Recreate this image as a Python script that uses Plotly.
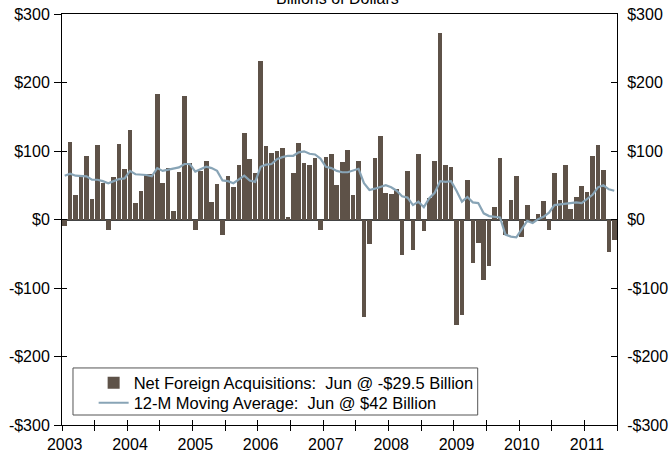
import plotly.graph_objects as go

# ---- data ----
start_year = 2003
year_labels = ["2003", "2004", "2005", "2006", "2007", "2008", "2009", "2010", "2011"]
net_acq = [
    -9, 113, 36, 63, 93, 30, 109, 53, -15, 62, 110, 74,        # 2003
    131, 24, 42, 66, 67, 183, 53, 75, 13, 69, 180, 82,         # 2004
    -16, 71, 85, 26, 52, -22, 64, 48, 80, 126, 88, 68,         # 2005
    232, 107, 97, 100, 104, 3, 68, 112, 83, 80, 90, -15,       # 2006
    91, 96, 50, 84, 101, 36, 85, -143, -36, 90, 122, 39,       # 2007
    37, 45, -52, 71, -45, 96, -17, 31, 85, 273, 80, 77,        # 2008
    -154, -140, 58, -63, -35, -89, -68, 18, 90, -23, 29, 64,   # 2009
    -26, 21, -3, 8, 27, -15, 68, 29, 80, 16, 33, 49,           # 2010
    40, 93, 109, 72, -48, -29.5,                               # 2011
]
ma12 = [
    64, 67, 64, 64, 63, 58, 58, 56, 53, 56, 59, 60,
    71, 66, 66, 65, 63, 75, 71, 73, 75, 76, 81, 81,
    70, 74, 77, 75, 71, 57, 56, 53, 59, 64, 57, 55,
    77, 80, 81, 88, 91, 93, 93, 98, 99.5, 96, 95, 89,
    77, 75, 71, 69, 69, 72, 74, 53, 43, 45, 47, 50,
    47, 42, 34, 32, 21, 26, 18, 31, 39, 56, 55, 56,
    42, 26, 33, 25, 24, 9, 5, 4, 3, -22, -25, -26,
    -14, -2, -5, 0.5, 4, 10, 21, 22, 23, 25, 25, 24,
    30, 36, 47, 50, 44, 42,
]
y_tickvals = [300, 200, 100, 0, -100, -200, -300]
y_ticktext = ["$300", "$200", "$100", "$0", "-$100", "-$200", "-$300"]
bar_name = "Net Foreign Acquisitions:\u00a0 Jun @ -$29.5 Billion"
line_name = "12-M Moving Average:\u00a0 Jun @ $42 Billion"

# ---- positions ----
x = [start_year + (i + 0.5) / 12 for i in range(len(net_acq))]
x_end = start_year + len(net_acq) / 12
half_ticks = [start_year + k * 0.5 for k in range(int((x_end - start_year) * 2) + 1)]
label_ticks = [start_year + k + 0.5 / 12 for k in range(len(year_labels))]

FONT = "Arial, Liberation Sans, sans-serif"
BAR_C = "#5E5248"
LINE_C = "#88A4B6"

fig = go.Figure()
fig.add_bar(x=x, y=net_acq, width=0.85 / 12, marker=dict(color=BAR_C, line=dict(width=0)),
            name=bar_name, legend="legend")
fig.add_scatter(x=x, y=ma12, mode="lines", line=dict(color=LINE_C, width=2.2),
                name=line_name, legend="legend2")
# empty helper traces so that the extra (tick-only) axes are drawn
fig.add_scatter(x=[None], y=[None], xaxis="x2", yaxis="y2", showlegend=False, hoverinfo="skip")
fig.add_scatter(x=[None], y=[None], xaxis="x3", yaxis="y3", showlegend=False, hoverinfo="skip")

common_x = dict(range=[start_year, x_end], showgrid=False, zeroline=False,
                fixedrange=True, automargin=False)
common_y = dict(range=[-300, 300], showgrid=False, zeroline=False, automargin=False,
                tickvals=y_tickvals, ticktext=y_ticktext)
tf = dict(family=FONT, size=16, color="black")
lf = dict(family=FONT, size=16.5, color="black")
leg_common = dict(x=0.057, xanchor="left", yanchor="middle", bgcolor="rgba(0,0,0,0)",
                  borderwidth=0, font=lf, itemclick=False, itemdoubleclick=False)

fig.update_layout(
    width=671, height=457,
    margin=dict(l=62, r=54, t=14, b=32, autoexpand=False),
    paper_bgcolor="white", plot_bgcolor="white",
    font=dict(family=FONT, size=16, color="black"),
    showlegend=True,
    bargap=0,
    xaxis=dict(**common_x, tickvals=half_ticks, ticktext=[""] * len(half_ticks),
               ticks="outside", ticklen=5, tickcolor="black", showline=True,
               linecolor="black", linewidth=1, mirror=True),
    xaxis2=dict(**common_x, overlaying="x", anchor="y2", side="bottom",
                tickvals=label_ticks, ticktext=year_labels, ticks="", showline=False,
                ticklabelstandoff=8, tickfont=tf),
    xaxis3=dict(**common_x, overlaying="x", anchor="y3", side="bottom",
                tickvals=half_ticks, ticks="inside", ticklen=5, tickcolor="black",
                showticklabels=False, showline=False),
    yaxis=dict(**common_y, ticks="outside", ticklen=7, tickcolor="black",
               showline=True, linecolor="black", linewidth=1,
               ticklabelstandoff=1, tickfont=tf,
               zerolinecolor="#444444", zerolinewidth=1.5),
    yaxis2=dict(**common_y, overlaying="y", anchor="x2", side="right",
                ticks="inside", ticklen=6, tickcolor="black", showline=True,
                linecolor="black", linewidth=1, ticklabelstandoff=6, tickfont=tf),
    yaxis3=dict(**common_y, overlaying="y", anchor="x3", side="left",
                ticks="inside", ticklen=5, tickcolor="black", showticklabels=False,
                showline=False),
    legend=dict(**leg_common, y=0.1022),
    legend2=dict(**leg_common, y=0.0535),
    shapes=[dict(type="rect", xref="paper", yref="paper",
                 x0=0.0198, x1=0.749, y0=0.0243, y1=0.1388,
                 line=dict(color="#555555", width=1), fillcolor="white", layer="above")],
    annotations=[dict(text="Billions of Dollars", xref="paper", yref="paper",
                      x=0.497, y=1.0154, xanchor="center", yanchor="bottom",
                      showarrow=False, borderpad=0, font=tf)],
)
fig.layout.yaxis.zeroline = True

fig.write_html("out.html", config={"displayModeBar": False},
               post_script="document.body.style.margin='0px';")
